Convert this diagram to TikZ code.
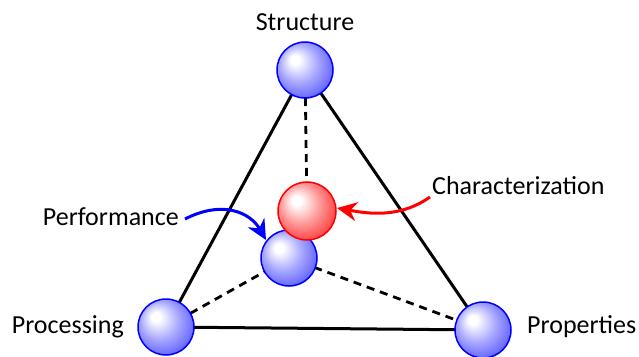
\documentclass[tikz,border=0pt]{standalone}
\usepackage{fontspec}
\setmainfont{Carlito}
\usetikzlibrary{arrows.meta,backgrounds}
\pgfdeclareradialshading{mtBlueShade}{\pgfpoint{-10bp}{10bp}}{%
  color(0bp)=(white); color(4bp)=(white); color(17bp)=(blue!34);
  color(27bp)=(blue!56); color(35bp)=(blue!86); color(42bp)=(blue)}
\pgfdeclareradialshading{mtRedShade}{\pgfpoint{-10bp}{10bp}}{%
  color(0bp)=(white); color(4bp)=(white); color(17bp)=(red!40);
  color(27bp)=(red!68); color(35bp)=(red!92); color(42bp)=(red)}
\begin{document}
\begin{tikzpicture}[
                x=1pt, y=-1pt,
                mtBlueBall/.style={circle,shading=mtBlueShade,draw=blue,
                                   line width=1.5pt,minimum size=56pt,inner sep=0pt},
                mtRedBall/.style={circle,shading=mtRedShade,draw=red,
                                  line width=1.5pt,minimum size=58pt,inner sep=0pt},
                mtEdge/.style={draw=black,line width=3pt},
                mtDash/.style={draw=black,line width=2.8pt,dash pattern=on 8pt off 6pt},
                mtLabel/.style={font=\fontsize{26}{30}\selectfont,inner sep=0pt},
                mtPointer/.style={line width=3pt,-{Stealth[length=20pt,width=19pt]}}]
                \useasboundingbox (0,0) rectangle (639,356);
                % corners of the tetrahedron
                \node[mtBlueBall] (struct) at (305,70) {};
                \node[mtBlueBall] (proc) at (166,327) {};
                \node[mtBlueBall] (prop) at (483,330) {};
                \node[mtBlueBall] (perf) at (289,258) {};
                \node[mtRedBall] (charac) at (307,211) {};
                % labels
                \node[mtLabel] (structLabel) at (305,22) {Structure};
                \node[mtLabel,anchor=east] (procLabel) at (124,327) {Processing};
                \node[mtLabel,anchor=west] (propLabel) at (527,327) {Properties};
                \node[mtLabel,anchor=east] (perfLabel) at (179,217) {Performance};
                \node[mtLabel,anchor=west] (characLabel) at (432,186) {Characterization};
                % edges behind the balls
                \begin{scope}[on background layer]
                    \draw[mtEdge] (struct.center) -- (proc.center) -- (prop.center) -- cycle;
                    \draw[mtDash] (struct.center) -- (charac.center);
                    \draw[mtDash] (proc.center) -- (perf.center) -- (prop.center);
                \end{scope}
                % pointers
                \draw[mtPointer,blue] (perfLabel.east) ++(6,2)
                    .. controls (222,200) and (250,212) .. (266,240);
                \draw[mtPointer,red] (characLabel.west) ++(-2,11)
                    .. controls (400,218) and (370,214) .. (337,208);
            \end{tikzpicture}
\end{document}
